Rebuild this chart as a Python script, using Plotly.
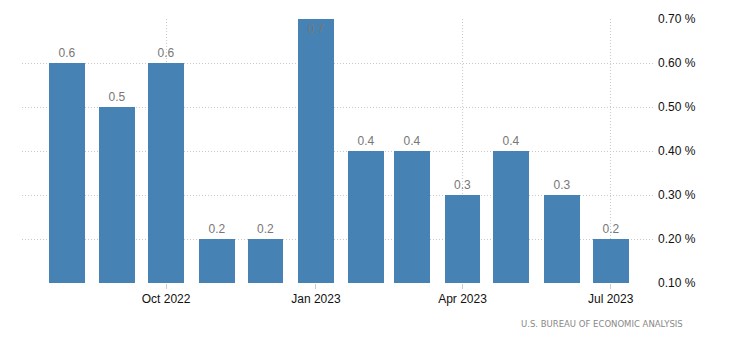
import plotly.graph_objects as go

months = ["2022-08-01", "2022-09-01", "2022-10-01", "2022-11-01", "2022-12-01", "2023-01-01",
          "2023-02-01", "2023-03-01", "2023-04-01", "2023-05-01", "2023-06-01", "2023-07-01"]
values = [0.6, 0.5, 0.6, 0.2, 0.2, 0.7, 0.4, 0.4, 0.3, 0.4, 0.3, 0.2]
tick_dates = ["2022-10-01", "2023-01-01", "2023-04-01", "2023-07-01"]
tick_text = ["Oct 2022", "Jan 2023", "Apr 2023", "Jul 2023"]
y_ticks = [0.1, 0.2, 0.3, 0.4, 0.5, 0.6, 0.7]
y_tick_text = ["0.10 %", "0.20 %", "0.30 %", "0.40 %", "0.50 %", "0.60 %", "0.70 %"]
source = "U.S. BUREAU OF ECONOMIC ANALYSIS"

y_min, y_max = 0.1, 0.7
FONT = "Liberation Sans"

positions = ["inside" if v >= y_max else "outside" for v in values]

fig = go.Figure()
fig.add_trace(go.Bar(
    x=months,
    y=[v - y_min for v in values],
    base=y_min,
    width=22 * 86400000,
    marker=dict(color="#4682B4", line=dict(width=0)),
    text=[f"{v:.1f}" for v in values],
    textposition=positions,
    insidetextanchor="end",
    textfont=dict(family=FONT, size=12, color="#777777"),
    insidetextfont=dict(family=FONT, size=12, color="#777777"),
    outsidetextfont=dict(family=FONT, size=12, color="#777777"),
    cliponaxis=False,
    hoverinfo="skip",
))

fig.update_layout(
    width=730, height=350,
    margin=dict(l=22, r=77, t=19, b=67),
    paper_bgcolor="white", plot_bgcolor="white",
    showlegend=False,
    bargap=0,
    xaxis=dict(
        type="date",
        range=["2022-07-04 12:00", "2023-07-27"],
        tickvals=tick_dates, ticktext=tick_text,
        showgrid=True, gridcolor="#c8c8c8", griddash="1px,2px", gridwidth=1,
        ticks="outside", ticklen=5, tickcolor="#cccccc",
        tickfont=dict(family=FONT, size=12, color="#111111"),
        showline=False, zeroline=False,
    ),
    yaxis=dict(
        side="right",
        range=[y_min, y_max],
        tickvals=y_ticks, ticktext=y_tick_text,
        showgrid=True, gridcolor="#c8c8c8", griddash="1px,2px", gridwidth=1,
        ticks="", ticklabelstandoff=4,
        tickfont=dict(family=FONT, size=12, color="#111111"),
        showline=False, zeroline=False,
    ),
    annotations=[dict(
        text=source, xref="paper", yref="paper",
        x=1.0 + 32 / 631, y=-0.155, xanchor="right", yanchor="middle",
        showarrow=False,
        font=dict(family="DejaVu Sans", size=8.5, color="#888888"),
    )],
)

fig.write_html("out.html")
